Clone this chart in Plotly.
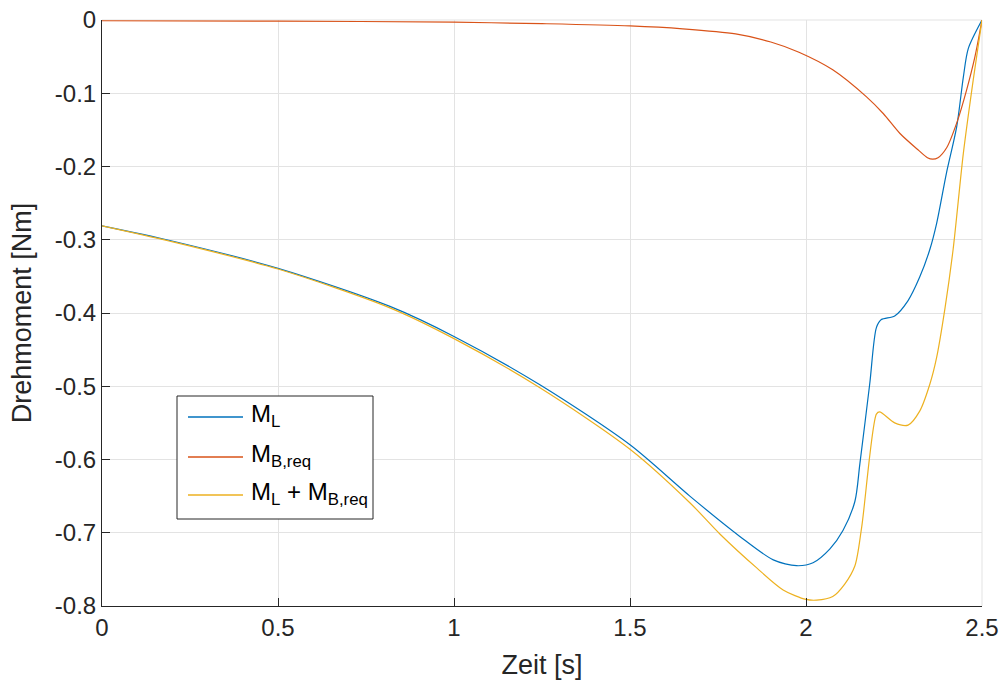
import plotly.graph_objects as go

# Zeitachse und Drehmomentverläufe
t_L = [0.0, 0.193, 0.5, 0.818, 1.0, 1.244, 1.5, 1.67, 1.812, 1.907, 1.973, 2.02,
       2.068, 2.105, 2.139, 2.153, 2.181, 2.2, 2.214, 2.252, 2.29, 2.323, 2.352,
       2.371, 2.399, 2.428, 2.447, 2.461, 2.5]
M_L = [-0.281, -0.301, -0.339, -0.391, -0.432, -0.498, -0.580, -0.650, -0.705,
       -0.737, -0.745, -0.741, -0.722, -0.697, -0.657, -0.606, -0.497, -0.420,
       -0.409, -0.404, -0.383, -0.351, -0.313, -0.278, -0.209, -0.146, -0.078,
       -0.039, 0.0]

t_B = [0.0, 0.5, 1.0, 1.25, 1.5, 1.65, 1.8, 1.9, 1.98, 2.076, 2.172, 2.22,
       2.267, 2.32, 2.345, 2.36, 2.375, 2.40, 2.43, 2.456, 2.48, 2.5]
M_B_req = [-0.001, -0.0015, -0.003, -0.005, -0.008, -0.012, -0.019, -0.030,
           -0.044, -0.068, -0.105, -0.128, -0.155, -0.178, -0.188, -0.190,
           -0.188, -0.174, -0.138, -0.096, -0.050, 0.0]

t_S = [0.0, 0.193, 0.5, 0.818, 1.0, 1.244, 1.5, 1.67, 1.756, 1.86, 1.935, 2.0,
       2.03, 2.076, 2.11, 2.139, 2.158, 2.2, 2.209, 2.252, 2.29, 2.323, 2.352,
       2.371, 2.395, 2.418, 2.447, 2.475, 2.5]
M_sum = [-0.281, -0.302, -0.340, -0.393, -0.435, -0.502, -0.586, -0.659, -0.702,
         -0.748, -0.778, -0.791, -0.792, -0.787, -0.770, -0.745, -0.693, -0.538,
         -0.535, -0.550, -0.553, -0.534, -0.497, -0.461, -0.393, -0.313, -0.182,
         -0.082, 0.0]

x_ticks = [0, 0.5, 1, 1.5, 2, 2.5]
x_labels = ["0", "0.5", "1", "1.5", "2", "2.5"]
y_ticks = [0, -0.1, -0.2, -0.3, -0.4, -0.5, -0.6, -0.7, -0.8]
y_labels = ["0", "-0.1", "-0.2", "-0.3", "-0.4", "-0.5", "-0.6", "-0.7", "-0.8"]

series_names = ["M<sub>L</sub>", "M<sub>B,req</sub>", "M<sub>L</sub> + M<sub>B,req</sub>"]
series_colors = ["#0072BD", "#D95319", "#EDB120"]

FONT = "Liberation Sans, Arial, sans-serif"
AXIS = "#262626"
GRID = "#e3e3e3"

fig = go.Figure()
for t, m, name, color in zip([t_L, t_B, t_S], [M_L, M_B_req, M_sum],
                             series_names, series_colors):
    fig.add_trace(go.Scatter(x=t, y=m, mode="lines", name=name, showlegend=False,
                             line=dict(color=color, width=1.2, shape="spline",
                                       smoothing=0.8)))

fig.update_layout(
    width=1003, height=686,
    margin=dict(l=102, r=21, t=20, b=80),
    paper_bgcolor="white", plot_bgcolor="white",
    font=dict(family=FONT, size=24, color=AXIS),
    xaxis=dict(range=[0, 2.5], tickvals=x_ticks, ticktext=x_labels,
               automargin=False,
               showgrid=True, gridcolor=GRID, gridwidth=1, zeroline=False,
               showline=True, linecolor=AXIS, linewidth=1,
               ticks="inside", ticklen=8, tickcolor=AXIS,
               title=dict(text="Zeit [s]", font=dict(size=27))),
    yaxis=dict(range=[-0.8, 0], tickvals=y_ticks, ticktext=y_labels,
               automargin=False,
               showgrid=True, gridcolor=GRID, gridwidth=1, zeroline=False,
               showline=True, linecolor=AXIS, linewidth=1,
               ticks="inside", ticklen=8, tickcolor=AXIS,
               title=dict(text="Drehmoment [Nm]", font=dict(size=27))),
)

# helle obere und rechte Rahmenlinie
fig.add_shape(type="line", xref="paper", yref="paper", x0=0, x1=1, y0=1, y1=1,
              line=dict(color=GRID, width=1), layer="below")
fig.add_shape(type="line", xref="paper", yref="paper", x0=1, x1=1, y0=0, y1=1,
              line=dict(color=GRID, width=1), layer="below")

# Legende: Rahmen, Liniensymbole und Beschriftungen (Pixel im Plotbereich)
PLOT_W, PLOT_H, X0, Y0 = 880, 586, 102, 20


def px(x):
    return (x - X0) / PLOT_W


def py(y):
    return 1 - (y - Y0) / PLOT_H


fig.add_shape(type="rect", xref="paper", yref="paper",
              x0=px(177), x1=px(373), y0=py(519), y1=py(396),
              line=dict(color=AXIS, width=1), fillcolor="white", layer="above")
row_y = [417, 457, 495]
for ry, name, color in zip(row_y, series_names, series_colors):
    fig.add_shape(type="line", xref="paper", yref="paper",
                  x0=px(188), x1=px(243), y0=py(ry), y1=py(ry),
                  line=dict(color=color, width=1.5), layer="above")
    fig.add_annotation(xref="paper", yref="paper", x=px(249), y=py(ry - 2),
                       xanchor="left", yanchor="middle", text=name,
                       showarrow=False, font=dict(family=FONT, size=24, color="black"))

fig.write_html("out.html")
